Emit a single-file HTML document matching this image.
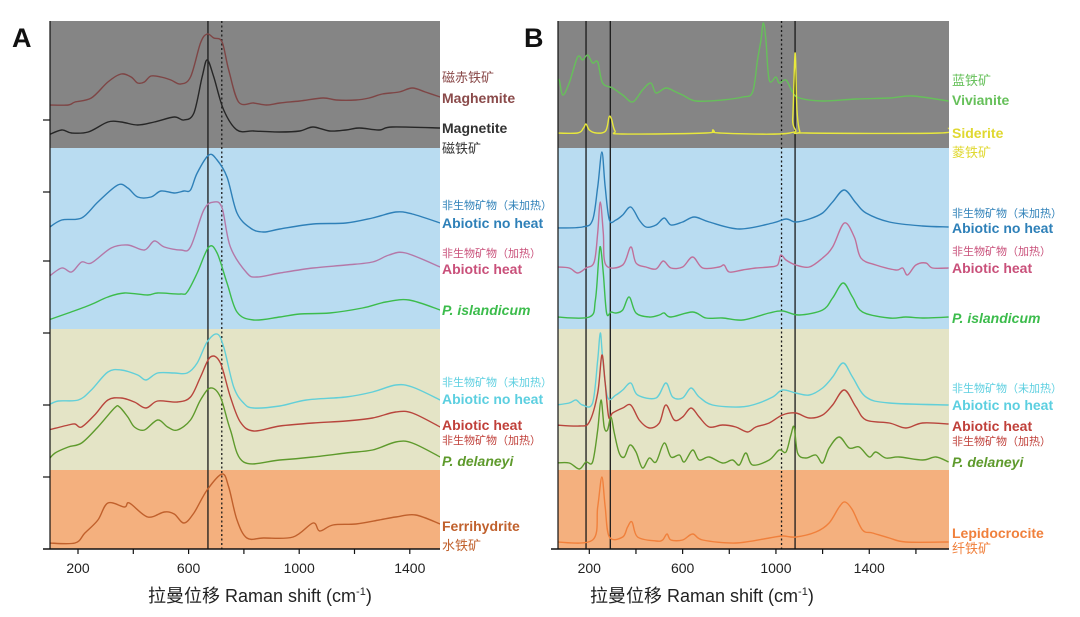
<!DOCTYPE html>
<html><head><meta charset="utf-8">
<style>
html,body{margin:0;padding:0;background:#fff;width:1080px;height:617px;overflow:hidden;font-family:"Liberation Sans","Noto Sans CJK SC",sans-serif;}
svg text{font-family:"Liberation Sans","Noto Sans CJK SC",sans-serif;}
</style></head>
<body>
<svg id="chart" width="1080" height="617" viewBox="0 0 1080 617" xmlns="http://www.w3.org/2000/svg">
<defs>
<clipPath id="clipA"><rect x="50" y="21" width="390" height="528"/></clipPath>
<clipPath id="clipB"><rect x="558" y="21" width="391" height="528"/></clipPath>
</defs>
<g id="gA"></g>
<g id="gB"></g>
<text x="12" y="47" font-size="27" font-weight="bold" fill="#111">A</text>
<text x="524" y="47" font-size="27" font-weight="bold" fill="#111">B</text>
<text x="148" y="602" font-size="18" fill="#222">拉曼位移 Raman shift (cm<tspan font-size="11" dy="-7">-1</tspan><tspan dy="7">)</tspan></text>
<text x="590" y="602" font-size="18" fill="#222">拉曼位移 Raman shift (cm<tspan font-size="11" dy="-7">-1</tspan><tspan dy="7">)</tspan></text>
</svg>
<script>
// ---------- Panel A data (wavenumber, intensity) ----------
const ticksXA = [200,400,600,800,1000,1200,1400];
const tickLabelsXA = ['200','600','1000','1400'];
const maghemite = [[93,444],[165,444],[189,447],[248,451],[308,467],[356,475],[392,472],[416,466],[440,467],[464,473],[500,472],[536,469],[571,465],[607,472],[643,506],[667,515],[691,511],[721,507],[745,479],[781,447],[835,446],[882,444],[930,446],[1002,448],[1086,451],[1134,449],[1205,449],[1253,451],[1301,455],[1361,457],[1409,461],[1456,457],[1510,452]];
const magnetite = [[93,414],[141,419],[177,416],[237,417],[308,427],[356,427],[416,424],[476,427],[548,432],[583,429],[619,436],[649,472],[667,489],[691,472],[727,439],[775,419],[835,418],[930,417],[1002,418],[1050,422],[1110,418],[1169,419],[1217,421],[1289,419],[1337,422],[1510,421]];
const abioticNoHeatA = [[93,321],[141,329],[213,331],[272,347],[344,364],[380,361],[416,352],[464,352],[500,358],[548,356],[583,358],[607,359],[631,376],[673,394],[703,389],[739,372],[775,336],[823,321],[870,317],[930,320],[1050,325],[1169,326],[1265,331],[1349,337],[1409,335],[1510,326]];
const abioticHeatA = [[93,272],[141,281],[177,277],[213,287],[248,286],[320,301],[380,304],[440,299],[476,308],[512,302],[571,299],[607,302],[655,339],[691,347],[721,341],[751,302],[811,276],[847,272],[930,276],[1050,281],[1169,284],[1265,287],[1325,294],[1385,296],[1510,282]];
const islandicumA = [[93,229],[165,236],[225,242],[260,246],[308,252],[368,256],[452,254],[488,256],[571,255],[595,257],[631,276],[673,302],[703,296],[739,266],[775,237],[835,229],[930,232],[1002,235],[1110,236],[1229,241],[1313,247],[1397,249],[1510,239]];
const abioticNoHeatA2 = [[93,144],[129,148],[201,149],[248,159],[308,177],[356,179],[416,174],[446,169],[488,176],[548,176],[595,176],[631,186],[667,207],[703,215],[727,202],[763,162],[799,146],[835,141],[930,143],[1026,149],[1169,152],[1265,157],[1349,164],[1409,162],[1510,149]];
const abioticHeatA2 = [[93,119],[165,124],[189,125],[213,122],[260,134],[308,149],[356,151],[404,147],[446,141],[488,148],[559,147],[607,152],[643,172],[679,192],[715,186],[751,152],[787,127],[835,118],[930,123],[1050,126],[1169,128],[1265,131],[1349,137],[1409,136],[1510,122]];
const delaneyiA = [[93,89],[117,96],[165,102],[213,106],[272,122],[332,141],[350,142],[380,132],[404,122],[440,119],[488,129],[524,122],[559,119],[607,129],[643,149],[679,161],[715,152],[751,119],[799,87],[930,89],[1050,92],[1169,96],[1265,99],[1349,107],[1409,106],[1510,92]];
const ferrihydrite = [[93,6],[189,6],[225,16],[272,29],[308,46],[368,42],[386,46],[452,32],[512,37],[548,35],[583,26],[619,36],[667,59],[721,75],[745,62],[775,29],[811,11],[870,11],[978,12],[1050,26],[1074,18],[1122,24],[1205,25],[1289,29],[1349,32],[1421,34],[1510,25]];

// ---------- Panel B data ----------
const ticksXB = [200,400,600,800,1000,1200,1400,1600];
const tickLabelsXB = ['200','600','1000','1400'];
const linesB = [[186,'solid'],[290,'solid'],[1024,'dot'],[1082,'solid']];
const vivianite = [[57,467],[71,469],[86,454],[114,466],[150,492],[171,489],[193,494],[214,486],[236,487],[257,466],[300,461],[343,454],[386,447],[428,459],[464,466],[486,456],[528,461],[571,457],[600,454],[657,448],[771,449],[857,452],[900,457],[921,489],[936,509],[946,526],[957,509],[971,469],[1000,472],[1014,466],[1043,469],[1071,457],[1100,451],[1200,448],[1343,450],[1486,451],[1586,453],[1740,448]];
const siderite = [[57,416],[150,416],[175,421],[186,425],[200,419],[230,416],[270,418],[285,432],[295,430],[310,418],[340,415],[700,416],[730,419],[760,416],[1060,416],[1072,430],[1082,496],[1090,440],[1102,418],[1130,416],[1700,416],[1740,421]];
const abioticNoHeatB = [[57,321],[171,322],[214,329],[236,362],[254,397],[268,362],[286,329],[314,329],[343,334],[378,342],[414,329],[443,322],[486,324],[521,331],[550,324],[600,327],[650,332],[714,327],[843,320],[986,326],[1043,330],[1085,327],[1143,330],[1200,336],[1243,347],[1293,359],[1343,346],[1386,336],[1486,327],[1628,323],[1740,322]];
const abioticHeatB = [[57,282],[114,281],[150,276],[186,281],[221,287],[236,316],[247,347],[260,316],[271,284],[343,284],[378,302],[400,286],[443,282],[486,280],[517,288],[550,281],[600,282],[643,292],[686,281],[757,282],[778,284],[800,277],[857,279],[914,281],[971,282],[1007,284],[1021,294],[1043,289],[1085,284],[1143,282],[1200,291],[1243,302],[1293,326],[1336,312],[1364,291],[1428,284],[1514,279],[1543,281],[1564,274],[1600,284],[1643,286],[1671,281],[1740,281]];
const islandicumB = [[57,232],[200,232],[226,249],[240,289],[248,302],[260,276],[274,236],[293,237],[314,236],[343,239],[371,252],[400,236],[457,232],[500,234],[521,236],[550,232],[643,237],[700,231],[771,231],[857,229],[971,236],[1028,238],[1100,234],[1200,239],[1243,251],[1288,266],[1328,252],[1371,237],[1486,231],[1557,232],[1628,231],[1740,232]];
const abioticNoHeatB2 = [[57,144],[114,146],[143,149],[171,144],[214,146],[236,189],[247,216],[257,192],[278,152],[314,154],[343,159],[378,166],[407,154],[486,151],[528,166],[557,152],[600,151],[636,161],[671,152],[728,144],[843,142],[914,145],[986,152],[1028,159],[1085,156],[1143,154],[1200,161],[1243,172],[1288,186],[1328,172],[1386,152],[1486,146],[1740,144]];
const abioticHeatB2 = [[57,124],[157,123],[200,127],[236,156],[254,194],[268,166],[283,132],[300,136],[343,141],[378,144],[414,129],[457,121],[500,126],[528,144],[564,129],[600,132],[636,141],[671,132],[714,122],[771,124],[828,122],[878,117],[914,122],[971,126],[1028,134],[1085,136],[1143,131],[1200,134],[1243,144],[1293,159],[1343,142],[1386,129],[1486,126],[1557,121],[1628,126],[1740,125]];
const delaneyiB = [[57,86],[114,86],[157,80],[186,87],[214,87],[236,119],[250,149],[264,122],[278,119],[293,132],[307,116],[328,96],[350,92],[374,104],[400,97],[428,81],[457,91],[486,87],[521,106],[550,92],[586,94],[607,87],[643,99],[671,89],[714,92],[771,86],[814,89],[843,84],[871,96],[900,84],[971,89],[1014,99],[1043,97],[1064,114],[1078,122],[1093,96],[1128,91],[1171,94],[1200,86],[1228,101],[1271,112],[1314,101],[1357,102],[1400,92],[1428,97],[1471,91],[1528,92],[1628,89],[1686,92],[1740,87]];
const lepidocrocite = [[57,7],[214,9],[236,42],[254,72],[268,42],[286,12],[343,12],[364,22],[383,27],[407,12],[486,8],[514,9],[533,15],[550,9],[600,9],[643,15],[686,9],[828,6],[971,11],[1028,13],[1085,12],[1171,17],[1228,26],[1271,42],[1297,47],[1328,39],[1371,19],[1414,16],[1486,11],[1557,7],[1740,7]];

const NS='http://www.w3.org/2000/svg';
function mk(parent,tag,attrs){const e=document.createElementNS(NS,tag);for(const k in attrs)e.setAttribute(k,attrs[k]);parent.appendChild(e);return e;}
const Y0=549;
const yS=v=>Y0-v;
const xA=w=>78+(w-200)*0.2765;
const xB=w=>589.3+(w-200)*0.2333;
function pathD(arr,xs){
  const P=arr.map(p=>[xs(p[0]),yS(p[1])]);
  let d='M'+P[0][0].toFixed(1)+','+P[0][1].toFixed(1);
  const t=0.5/3;
  for(let i=0;i<P.length-1;i++){
    const p0=P[Math.max(0,i-1)],p1=P[i],p2=P[i+1],p3=P[Math.min(P.length-1,i+2)];
    const c1=[p1[0]+(p2[0]-p0[0])*t,p1[1]+(p2[1]-p0[1])*t];
    const c2=[p2[0]-(p3[0]-p1[0])*t,p2[1]-(p3[1]-p1[1])*t];
    d+=' C'+c1[0].toFixed(1)+','+c1[1].toFixed(1)+' '+c2[0].toFixed(1)+','+c2[1].toFixed(1)+' '+p2[0].toFixed(1)+','+p2[1].toFixed(1);
  }
  return d;
}

function drawPanel(g,xs,x0,x1,clip,series,vlines,ticks,labels,hasY){
  const bands=[[21,148,'#858585'],[148,329,'#b9dcf1'],[329,470,'#e4e4c6'],[470,549,'#f4b07e']];
  bands.forEach((b,i)=>{
    const r=mk(g,'rect',{x:x0,y:b[0],width:x1-x0,height:b[1]-b[0],fill:b[2]});
    
    
  });
  vlines.forEach(v=>{
    const l=mk(g,'line',{x1:xs(v[0]),x2:xs(v[0]),y1:21,y2:549,stroke:'#1a1a1a','stroke-width':1.3});
    if(v[1]==='dot')l.setAttribute('stroke-dasharray','2,2.5');
    
    
  });
  const sg=mk(g,'g',{'clip-path':'url(#'+clip+')'});
  series.forEach(s=>{
    const p=mk(sg,'path',{d:pathD(s.data,xs),fill:'none',stroke:s.color,'stroke-width':1.4,'stroke-linejoin':'round'});
    
    
  });
  const ax=mk(g,'line',{x1:x0-7,x2:x1,y1:549,y2:549,stroke:'#111','stroke-width':1.5});
  
  
  const ay=mk(g,'line',{x1:x0,x2:x0,y1:21,y2:549,stroke:'#111','stroke-width':1.2});
  
  
  if(hasY){
    [72,144,216,288,360,432].forEach(v=>{
      const t=mk(g,'line',{x1:x0-7,x2:x0,y1:yS(v+(v>300?-3:0)),y2:yS(v+(v>300?-3:0)),stroke:'#111','stroke-width':1.2});
      
      
    });
  }
  ticks.forEach(tv=>{
    const t=mk(g,'line',{x1:xs(tv),x2:xs(tv),y1:549,y2:554,stroke:'#111','stroke-width':1.2});
    
    
  });
  labels.forEach(lb=>{
    const t=mk(g,'text',{x:xs(+lb),y:573,'font-size':14,'text-anchor':'middle',fill:'#222'});
    t.textContent=lb;
    
    
  });
}

const gA=document.getElementById('gA');
drawPanel(gA,xA,50,440,'clipA',[
 {name:'maghemite-line',data:maghemite,color:'#7e4545'},
 {name:'magnetite-line',data:magnetite,color:'#262626'},
 {name:'abiotic-no-heat-line-a',data:abioticNoHeatA,color:'#2e80b8'},
 {name:'abiotic-heat-line-a',data:abioticHeatA,color:'#b478a8'},
 {name:'p-islandicum-line-a',data:islandicumA,color:'#3cbc4c'},
 {name:'abiotic-no-heat-line-a2',data:abioticNoHeatA2,color:'#62cfd8'},
 {name:'abiotic-heat-line-a2',data:abioticHeatA2,color:'#b8453c'},
 {name:'p-delaneyi-line-a',data:delaneyiA,color:'#5e9a2c'},
 {name:'ferrihydrite-line',data:ferrihydrite,color:'#c0602c'}
],[[670,'solid'],[720,'dot']],ticksXA,tickLabelsXA,true);

const gB=document.getElementById('gB');
drawPanel(gB,xB,558,949,'clipB',[
 {name:'vivianite-line',data:vivianite,color:'#66c05a'},
 {name:'siderite-line',data:siderite,color:'#e8e83c'},
 {name:'abiotic-no-heat-line-b',data:abioticNoHeatB,color:'#2e80b8'},
 {name:'abiotic-heat-line-b',data:abioticHeatB,color:'#c0709a'},
 {name:'p-islandicum-line-b',data:islandicumB,color:'#3cbc4c'},
 {name:'abiotic-no-heat-line-b2',data:abioticNoHeatB2,color:'#62cfd8'},
 {name:'abiotic-heat-line-b2',data:abioticHeatB2,color:'#b8453c'},
 {name:'p-delaneyi-line-b',data:delaneyiB,color:'#5e9a2c'},
 {name:'lepidocrocite-line',data:lepidocrocite,color:'#f0803c'}
],linesB,ticksXB,tickLabelsXB,false);

// ---------- Labels ----------
const labelsA=[
 ['磁赤铁矿',82,'#8a4a4a',false,false,'label-maghemite-cn'],
 ['Maghemite',103,'#8a4a4a',true,false,'label-maghemite'],
 ['Magnetite',133,'#333333',true,false,'label-magnetite'],
 ['磁铁矿',153,'#333333',false,false,'label-magnetite-cn'],
 ['非生物矿物（未加热）',209,'#2e80b8',false,true,'label-abiotic-no-heat-cn-a'],
 ['Abiotic no heat',228,'#2e80b8',true,false,'label-abiotic-no-heat-a'],
 ['非生物矿物（加热）',257,'#c9507a',false,true,'label-abiotic-heat-cn-a'],
 ['Abiotic heat',274,'#c9507a',true,false,'label-abiotic-heat-a'],
 ['P. islandicum',315,'#3cbc4c',true,false,'label-p-islandicum-a','italic'],
 ['非生物矿物（未加热）',386,'#5ccfe0',false,true,'label-abiotic-no-heat-cn-a2'],
 ['Abiotic no heat',404,'#5ccfe0',true,false,'label-abiotic-no-heat-a2'],
 ['Abiotic heat',430,'#c0403a',true,false,'label-abiotic-heat-a2'],
 ['非生物矿物（加热）',444,'#c0403a',false,true,'label-abiotic-heat-cn-a2'],
 ['P. delaneyi',466,'#5e9a2c',true,false,'label-p-delaneyi-a','italic'],
 ['Ferrihydrite',531,'#c0602c',true,false,'label-ferrihydrite'],
 ['水铁矿',550,'#c0602c',false,false,'label-ferrihydrite-cn']
];
const labelsB=[
 ['蓝铁矿',85,'#66c05a',false,false,'label-vivianite-cn'],
 ['Vivianite',105,'#66c05a',true,false,'label-vivianite'],
 ['Siderite',138,'#e0d830',true,false,'label-siderite'],
 ['菱铁矿',157,'#e0d830',false,false,'label-siderite-cn'],
 ['非生物矿物（未加热）',217,'#2e80b8',false,true,'label-abiotic-no-heat-cn-b'],
 ['Abiotic no heat',233,'#2e80b8',true,false,'label-abiotic-no-heat-b'],
 ['非生物矿物（加热）',255,'#c9507a',false,true,'label-abiotic-heat-cn-b'],
 ['Abiotic heat',273,'#c9507a',true,false,'label-abiotic-heat-b'],
 ['P. islandicum',323,'#3cbc4c',true,false,'label-p-islandicum-b','italic'],
 ['非生物矿物（未加热）',392,'#5ccfe0',false,true,'label-abiotic-no-heat-cn-b2'],
 ['Abiotic no heat',410,'#5ccfe0',true,false,'label-abiotic-no-heat-b2'],
 ['Abiotic heat',431,'#c0403a',true,false,'label-abiotic-heat-b2'],
 ['非生物矿物（加热）',445,'#c0403a',false,true,'label-abiotic-heat-cn-b2'],
 ['P. delaneyi',467,'#5e9a2c',true,false,'label-p-delaneyi-b','italic'],
 ['Lepidocrocite',538,'#f0803c',true,false,'label-lepidocrocite'],
 ['纤铁矿',553,'#f0803c',false,false,'label-lepidocrocite-cn']
];
const svg=document.getElementById('chart');
function drawLabels(list,x){
  list.forEach(l=>{
    const t=mk(svg,'text',{x:x,y:l[1],fill:l[2],'font-size':l[3]?14:(l[4]?11:13),'font-weight':l[3]?'bold':'normal'});
    if(l[6])t.setAttribute('font-style','italic');
    t.textContent=l[0];
    
    
  });
}
drawLabels(labelsA,442);
drawLabels(labelsB,952);
</script>
</body></html>
